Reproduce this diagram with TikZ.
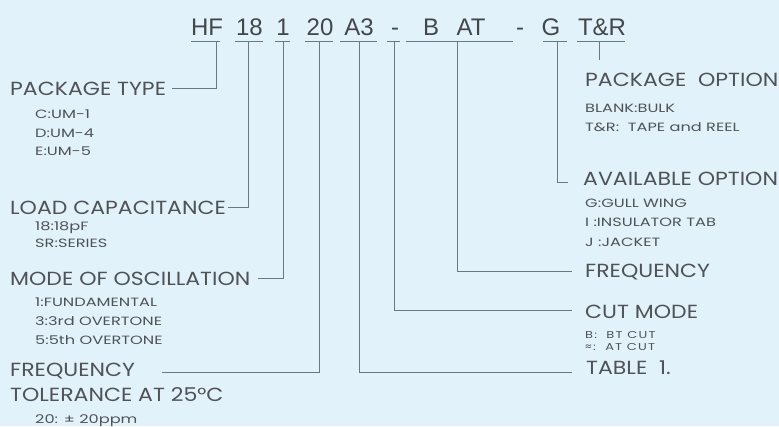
\documentclass[tikz,border=0pt]{standalone}
\usepackage{fontspec}
\setmainfont{Poppins}
\newfontfamily\codefont{Liberation Sans}
\newfontfamily\lblfont[FakeStretch=1.16]{Poppins}
\newfontfamily\subfont[FakeStretch=1.35]{Poppins}
\newfontfamily\tinyfont[FakeStretch=1.3,LetterSpace=12]{Poppins}
\definecolor{bg}{HTML}{E1F2FB}
\definecolor{ink}{HTML}{505356}
\definecolor{wire}{HTML}{6C787F}
\tikzset{
  code/.style={anchor=base, inner sep=0pt, text=ink!85!black, font=\codefont\fontsize{24}{24}\selectfont},
  mainlbl/.style={anchor=base west, inner sep=0pt, text=ink, font=\lblfont\fontsize{19}{19}\selectfont},
  sublbl/.style={anchor=base west, inner sep=0pt, text=ink, font=\subfont\fontsize{12}{12}\selectfont},
  tinylbl/.style={anchor=base west, inner sep=0pt, text=ink, font=\tinyfont\fontsize{10}{10}\selectfont},
  conn/.style={draw=wire, line width=0.9pt},
}
\begin{document}
\begin{tikzpicture}[x=1pt,y=-1pt]
\fill[bg] (0,0) rectangle (779,426);
\useasboundingbox (0,0) rectangle (779,426);
% code line
\node[code] (cHF) at (207,35) {HF};
\node[code] (c18) at (249.5,35) {18};
\node[code] (c1) at (283,35) {1};
\node[code] (c20) at (320,35) {20};
\node[code] (cA3) at (359,35) {A3};
\node[code] (cd1) at (395,35) {-};
\node[code] (cB) at (431,35) {B};
\node[code] (cAT) at (471,35) {AT};
\node[code] (cd2) at (520,35) {-};
\node[code] (cG) at (551,35) {G};
\node[code] (cTR) at (602,35) {T\&R};
% underlines
\foreach \a/\b/\n in {191/220/HF,235/263/18,275/290/1,305/333/20,340/377/A3,387/400/d1,406/513/BAT,543/567/G,577/625/TR}{
  \coordinate (ul\n) at (\a,41); \coordinate (ur\n) at (\b,41);
  \draw[conn] (ul\n) -- (ur\n);
}
% tick tops
\coordinate (tHF) at (216,41);
\coordinate (t18) at (248,41);
\coordinate (t1) at (283,41);
\coordinate (t20) at (319,41);
\coordinate (tA3) at (359,41);
\coordinate (td1) at (394,41);
\coordinate (tBAT) at (457,41);
\coordinate (tG) at (557,41);
\coordinate (tTR) at (599,41);
% left labels
\node[mainlbl] (ptype) at (10,95.5) {PACKAGE TYPE};
\node[sublbl] (pt1) at (35,118) {C:UM-1};
\node[sublbl] (pt2) at (35,137) {D:UM-4};
\node[sublbl] (pt3) at (35,155) {E:UM-5};
\node[mainlbl] (load) at (10,214.5) {LOAD CAPACITANCE};
\node[sublbl] (ld1) at (35,230) {18:18pF};
\node[sublbl] (ld2) at (35,247) {SR:SERIES};
\node[mainlbl] (mode) at (10,285.5) {MODE OF OSCILLATION};
\node[sublbl] (md1) at (35,306) {1:FUNDAMENTAL};
\node[sublbl] (md2) at (35,325) {3:3rd OVERTONE};
\node[sublbl] (md3) at (35,344) {5:5th OVERTONE};
\node[mainlbl] (freqt) at (10,376.5) {FREQUENCY};
\node[mainlbl] (tol) at (10,401.5) {TOLERANCE AT 25°C};
\node[sublbl] (tl1) at (35,423) {20: ± 20ppm};
% right labels
\node[mainlbl] (popt) at (585,86.5) {PACKAGE\ \ OPTION};
\node[sublbl] (po1) at (585,112) {BLANK:BULK};
\node[sublbl] (po2) at (585,131) {T\&R:\ \ TAPE and REEL};
\node[mainlbl] (aopt) at (583,185.5) {AVAILABLE OPTION};
\node[sublbl] (ao1) at (585,207) {G:GULL WING};
\node[sublbl] (ao2) at (585,226) {I :INSULATOR TAB};
\node[sublbl] (ao3) at (585,246) {J :JACKET};
\node[mainlbl] (freq) at (585,277.5) {FREQUENCY};
\node[mainlbl] (cut) at (585,318.5) {CUT MODE};
\node[tinylbl] (ct1) at (585,338.5) {B:\ \ BT CUT};
\node[tinylbl] (ct2) at (585,350.5) {≈:\ \ AT CUT};
\node[mainlbl] (tab) at (586,374.5) {TABLE\ \ 1.};
% connector ends
\coordinate (eHF) at (172,88);
\coordinate (e18) at (228,207);
\coordinate (e1) at (258,278);
\coordinate (e20) at (162,372);
\coordinate (eA3) at (572,372);
\coordinate (ed1) at (572,310);
\coordinate (eBAT) at (572,271);
\coordinate (eG) at (568,182);
\coordinate (eTR) at (599,60);
\draw[conn] (tHF) |- (eHF);
\draw[conn] (t18) |- (e18);
\draw[conn] (t1) |- (e1);
\draw[conn] (t20) |- (e20);
\draw[conn] (tA3) |- (eA3);
\draw[conn] (td1) |- (ed1);
\draw[conn] (tBAT) |- (eBAT);
\draw[conn] (tG) |- (eG);
\draw[conn] (tTR) -- (eTR);
\end{tikzpicture}
\end{document}
